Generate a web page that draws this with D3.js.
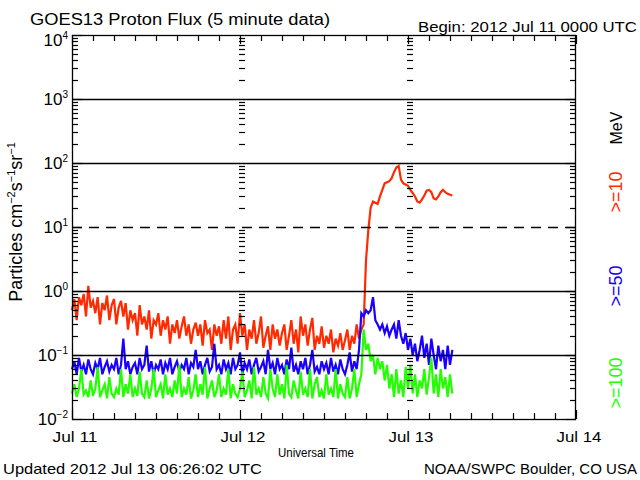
<!DOCTYPE html>
<html><head><meta charset="utf-8">
<script src="https://cdn.jsdelivr.net/npm/d3@7"></script>
<style>body{margin:0;background:#fff}svg{display:block}text{font-family:"Liberation Sans",Arial,sans-serif;fill:#000}</style>
</head><body>
<script>
const dayLabels = ["Jul 11","Jul 12","Jul 13","Jul 14"];
const yTickExps = [4,3,2,1,0,-1,-2];
const seriesNames = [">=10", ">=50", ">=100"];
const seriesColors = ["#ff2a00", "#1a00ff", "#22ff00"];
// >=10 MeV, 20-minute samples from 2012-07-11 00:00 UTC
const red = [
0.5,0.75,0.35,0.8,0.6,0.9,0.4,1.2,0.55,
0.7,0.45,0.8,0.3,0.65,0.5,0.85,0.35,0.6,
0.75,0.3,0.55,0.7,0.4,0.65,0.25,0.5,0.35,
0.45,0.2,0.6,0.3,0.4,0.25,0.5,0.18,0.35,
0.3,0.45,0.2,0.35,0.25,0.4,0.15,0.3,0.22,
0.35,0.18,0.28,0.4,0.2,0.3,0.15,0.25,0.32,
0.2,0.3,0.14,0.35,0.22,0.25,0.12,0.3,0.2,
0.28,0.15,0.35,0.18,0.4,0.12,0.25,0.3,0.15,
0.45,0.2,0.3,0.12,0.25,0.18,0.35,0.15,0.22,
0.4,0.13,0.2,0.28,0.12,0.3,0.18,0.25,0.14,
0.22,0.3,0.12,0.2,0.35,0.15,0.25,0.11,0.4,
0.2,0.3,0.14,0.25,0.38,0.12,0.2,0.15,0.28,
0.13,0.2,0.15,0.25,0.11,0.18,0.14,0.22,0.12,
0.17,0.25,0.12,0.2,0.15,0.3,0.18,0.25,0.3,
3,9,20,25,24,23,30,38,48,
50,52,58,72,85,90,55,48,46,
44,38,34,30,25,24,27,31,37,
38,35,28,27,30,35,38,35,33,
32,31];
// >=50 MeV
const blue = [
0.06,0.08,0.05,0.09,0.055,0.07,0.05,0.085,0.06,
0.05,0.075,0.06,0.09,0.05,0.065,0.08,0.055,0.07,
0.06,0.09,0.05,0.07,0.18,0.06,0.08,0.05,0.065,
0.075,0.05,0.09,0.06,0.07,0.14,0.055,0.08,0.05,
0.07,0.06,0.085,0.05,0.075,0.06,0.09,0.05,0.065,
0.08,0.055,0.07,0.06,0.09,0.05,0.075,0.065,0.12,
0.06,0.08,0.05,0.07,0.09,0.055,0.065,0.15,0.06,
0.07,0.05,0.085,0.06,0.075,0.05,0.09,0.06,0.07,
0.11,0.05,0.075,0.06,0.085,0.05,0.07,0.09,0.055,
0.065,0.08,0.05,0.12,0.06,0.075,0.05,0.09,0.06,
0.07,0.05,0.085,0.06,0.13,0.055,0.07,0.05,0.08,
0.06,0.09,0.05,0.07,0.12,0.055,0.065,0.05,0.08,
0.06,0.075,0.05,0.09,0.055,0.07,0.05,0.085,0.06,
0.05,0.07,0.11,0.055,0.08,0.06,0.12,0.45,0.4,
0.5,0.45,0.5,0.8,0.35,0.3,0.25,0.3,0.22,
0.28,0.2,0.25,0.3,0.18,0.35,0.2,0.15,0.22,
0.12,0.18,0.1,0.15,0.08,0.12,0.2,0.09,0.15,
0.07,0.18,0.1,0.06,0.14,0.08,0.12,0.06,0.14,
0.07,0.12];
// >=100 MeV
const green = [
0.025,0.035,0.022,0.03,0.06,0.024,0.028,0.022,0.04,
0.023,0.03,0.065,0.022,0.028,0.035,0.021,0.045,0.025,
0.022,0.03,0.024,0.06,0.022,0.035,0.025,0.05,0.022,
0.03,0.023,0.055,0.025,0.022,0.04,0.021,0.03,0.06,
0.022,0.028,0.035,0.021,0.05,0.024,0.03,0.022,0.04,
0.025,0.07,0.022,0.03,0.024,0.045,0.021,0.028,0.05,
0.022,0.035,0.024,0.065,0.021,0.03,0.04,0.022,0.028,
0.05,0.022,0.03,0.024,0.06,0.021,0.035,0.025,0.022,
0.03,0.055,0.022,0.028,0.04,0.021,0.065,0.024,0.03,
0.022,0.045,0.025,0.021,0.06,0.03,0.022,0.05,0.024,
0.035,0.021,0.07,0.025,0.022,0.04,0.028,0.021,0.055,
0.024,0.03,0.022,0.06,0.021,0.035,0.045,0.022,0.028,
0.021,0.05,0.024,0.03,0.022,0.06,0.021,0.035,0.025,
0.022,0.045,0.021,0.03,0.06,0.022,0.035,0.05,0.25,
0.12,0.15,0.08,0.1,0.05,0.09,0.06,0.08,0.04,
0.07,0.03,0.05,0.022,0.06,0.025,0.04,0.022,0.065,
0.03,0.07,0.025,0.05,0.022,0.04,0.03,0.06,0.024,
0.045,0.09,0.025,0.05,0.022,0.06,0.03,0.045,0.022,
0.05,0.025];

const W = 640, H = 480;
const L = 72, R = 576, T = 35, B = 419;
const t0 = new Date(Date.UTC(2012,6,11));
const t3 = new Date(Date.UTC(2012,6,14));
const sampleMs = 20*60*1000;

const svg = d3.select("body").append("svg").attr("width",W).attr("height",H);
const x = d3.scaleUtc().domain([t0,t3]).range([L,R]);
const y = d3.scaleLog().domain([1e-2,1e4]).range([B,T]);

// data lines
const line = d3.line().x((d,i)=>x(new Date(t0.getTime()+i*sampleMs))).y(d=>y(d));
[red, blue, green].forEach((s,k)=>{
  svg.append("path").datum(s).attr("d",line).attr("fill","none")
    .attr("stroke",seriesColors[k]).attr("stroke-width",2.2).attr("stroke-linejoin","miter");
});

// grid lines at decades
const decades = yTickExps.map(e=>Math.pow(10,e)).filter(v=>v>1e-2 && v<1e4);
svg.append("g").selectAll("line").data(decades).join("line")
  .attr("x1",L).attr("x2",R).attr("y1",d=>Math.round(y(d))+0.5).attr("y2",d=>Math.round(y(d))+0.5)
  .attr("stroke","#000").attr("stroke-width",1.3)
  .attr("stroke-dasharray",d=>d===10?"10,7":null);

// minor y ticks
const yt = y.ticks().filter(v=>v>=1e-2 && v<=1e4);
const isDecade = v=>Math.abs(Math.log10(v)-Math.round(Math.log10(v)))<1e-9;
const minorY = yt.filter(v=>!isDecade(v));
const gy = svg.append("g").attr("stroke","#000").attr("stroke-width",1.2);
minorY.forEach(v=>{
  const yy = Math.round(y(v))+0.5;
  gy.append("line").attr("x1",L).attr("x2",L+6).attr("y1",yy).attr("y2",yy);
  gy.append("line").attr("x1",R-6).attr("x2",R).attr("y1",yy).attr("y2",yy);
  [1,2].forEach(d=>{
    const xd = Math.round(x(new Date(t0.getTime()+d*86400000)));
    gy.append("line").attr("x1",xd-1).attr("x2",xd+5).attr("y1",yy).attr("y2",yy);
  });
});
decades.concat([1e4,1e-2]).forEach(v=>{
  const yy = Math.round(y(v))+0.5;
  gy.append("line").attr("x1",L).attr("x2",L+10).attr("y1",yy).attr("y2",yy);
  gy.append("line").attr("x1",R-10).attr("x2",R).attr("y1",yy).attr("y2",yy);
});

// x ticks every 3 hours
const xt = x.ticks(d3.utcHour.every(3));
xt.forEach(t=>{
  const xx = Math.round(x(t))+0.5;
  const major = t.getUTCHours()===0;
  const len = major?9:6;
  gy.append("line").attr("x1",xx).attr("x2",xx).attr("y1",B).attr("y2",B-len);
  gy.append("line").attr("x1",xx).attr("x2",xx).attr("y1",T).attr("y2",T+len);
});

// frame
svg.append("rect").attr("x",L+0.5).attr("y",T+0.5).attr("width",R-L-1).attr("height",B-T)
  .attr("fill","none").attr("stroke","#000").attr("stroke-width",1.3);

// y tick labels
yTickExps.forEach(e=>{
  const v = Math.pow(10,e);
  const t = svg.append("text").attr("x",68).attr("y",y(v)+ (e===4?11:6)).attr("text-anchor","end").style("font-size","17px");
  t.append("tspan").text("10");
  t.append("tspan").attr("dy",-7).style("font-size","10px").text(e<0?"\u2212"+(-e):String(e));
});

// x tick labels
dayLabels.forEach((lab,i)=>{
  svg.append("text").attr("x",x(new Date(t0.getTime()+i*86400000))+3).attr("y",442)
    .attr("text-anchor","middle").style("font-size","15px")
    .attr("textLength",45).attr("lengthAdjust","spacingAndGlyphs").text(lab);
});

// titles
svg.append("text").attr("x",30).attr("y",25).style("font-size","16px")
  .attr("textLength",300).attr("lengthAdjust","spacingAndGlyphs").text("GOES13 Proton Flux (5 minute data)");
svg.append("text").attr("x",418).attr("y",32).style("font-size","15px")
  .attr("textLength",219).attr("lengthAdjust","spacingAndGlyphs").text("Begin: 2012 Jul 11 0000 UTC");
svg.append("text").attr("x",278).attr("y",457).style("font-size","13px")
  .attr("textLength",76).attr("lengthAdjust","spacingAndGlyphs").text("Universal Time");
svg.append("text").attr("x",3).attr("y",474).style("font-size","15px")
  .attr("textLength",259).attr("lengthAdjust","spacingAndGlyphs").text("Updated 2012 Jul 13 06:26:02 UTC");
svg.append("text").attr("x",424).attr("y",474).style("font-size","15px")
  .attr("textLength",213).attr("lengthAdjust","spacingAndGlyphs").text("NOAA/SWPC Boulder, CO USA");

// y axis title
const yl = svg.append("text").attr("transform","translate(22,222) rotate(-90)").attr("text-anchor","middle").style("font-size","18px");
yl.append("tspan").text("Particles cm");
yl.append("tspan").attr("dy",-7).style("font-size","11px").text("\u22122");
yl.append("tspan").attr("dy",7).text("s");
yl.append("tspan").attr("dy",-7).style("font-size","11px").text("\u22121");
yl.append("tspan").attr("dy",7).text("sr");
yl.append("tspan").attr("dy",-7).style("font-size","11px").text("\u22121");

// right legend
svg.append("text").attr("transform","translate(622,128) rotate(-90)").attr("text-anchor","middle").style("font-size","16px").text("MeV");
const legY = [192, 286, 383];
seriesNames.forEach((n,k)=>{
  svg.append("text").attr("transform",`translate(622,${legY[k]}) rotate(-90)`).attr("text-anchor","middle")
    .style("font-size","18px").style("fill",seriesColors[k]).text(n);
});
</script>
</body></html>
